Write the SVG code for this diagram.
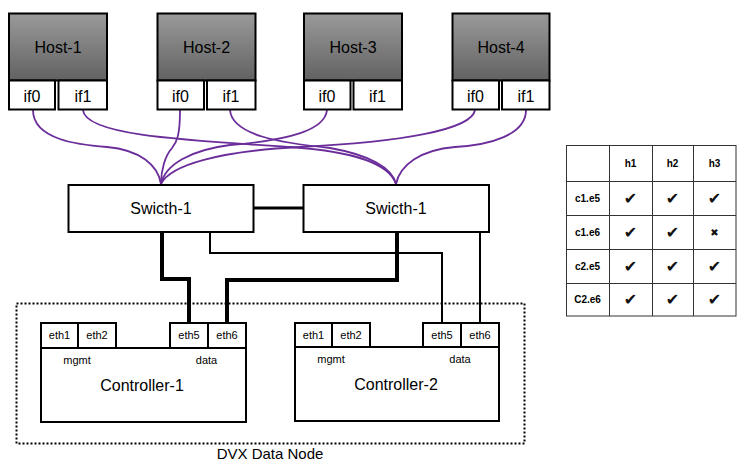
<svg xmlns="http://www.w3.org/2000/svg" width="742" height="472" viewBox="0 0 742 472">
<defs>
<linearGradient id="hostGrad" x1="0" y1="0" x2="0" y2="1">
<stop offset="0" stop-color="#9a9a9a"/>
<stop offset="1" stop-color="#626262"/>
</linearGradient>
</defs>
<style>
.box{fill:#fff;stroke:#000;stroke-width:2}
.host{fill:url(#hostGrad);stroke:#000;stroke-width:2}
.t16{font-family:"Liberation Sans",Arial,sans-serif;font-size:16px;fill:#000;text-anchor:middle}
.t11{font-family:"Liberation Sans",Arial,sans-serif;font-size:11px;fill:#000;text-anchor:middle}
.tb{font-family:"Liberation Sans",Arial,sans-serif;font-size:10px;font-weight:bold;fill:#000;text-anchor:middle}
.ck{font-family:"DejaVu Sans",sans-serif;font-size:16px;fill:#111;text-anchor:middle}
.xk{font-family:"DejaVu Sans",sans-serif;font-size:10px;fill:#111;text-anchor:middle}
.purple{fill:none;stroke:#6a2d9a;stroke-width:1.8}
.thick{fill:none;stroke:#000;stroke-width:4}
.thin{fill:none;stroke:#000;stroke-width:2}
.grid{stroke:#333;stroke-width:1;fill:none}
</style>

<g id="connectors">
<path class="purple" d="M33,110 C33,140 80,145 107,147 C140,150 158,165 161,184"/>
<path class="purple" d="M180,110 C180,135 177,142 172,148 C165,156 161,170 161,184"/>
<path class="purple" d="M327,110 C325,130 290,140 230,145 C190,150 165,165 161,184"/>
<path class="purple" d="M475,110 C472,130 400,142 300,147 C220,151 170,165 161,184"/>
<path class="purple" d="M83,110 C85,135 180,140 290,147 C360,152 390,165 396,184"/>
<path class="purple" d="M230,110 C232,135 280,143 330,148 C370,155 392,168 396,184"/>
<path class="purple" d="M526,110 C526,135 490,145 455,147 C420,150 400,165 396,184"/>
<line class="thick" x1="254" y1="208" x2="303" y2="208" style="stroke-width:3"/>
<path class="thick" d="M162,232 V279 H189 V323"/>
<path class="thick" d="M397,232 V280 H227 V323"/>
<path class="thin" d="M210,232 V253 H442 V323"/>
<path class="thin" d="M480,232 V323"/>
</g>

<g id="host-1">
<rect class="host" x="9" y="13.5" width="98" height="67"/>
<text class="t16" x="58" y="53">Host-1</text>
<rect class="box" x="9" y="80.5" width="46" height="29"/>
<text class="t16" x="32" y="102">if0</text>
<rect class="box" x="58.5" y="80.5" width="48.5" height="29"/>
<text class="t16" x="83" y="102">if1</text>
</g>
<g id="host-2">
<rect class="host" x="157.5" y="13.5" width="98" height="67"/>
<text class="t16" x="206.5" y="53">Host-2</text>
<rect class="box" x="157.5" y="80.5" width="46.5" height="29"/>
<text class="t16" x="180.5" y="102">if0</text>
<rect class="box" x="207" y="80.5" width="48.5" height="29"/>
<text class="t16" x="231" y="102">if1</text>
</g>
<g id="host-3">
<rect class="host" x="304" y="13.5" width="98" height="67"/>
<text class="t16" x="353" y="53">Host-3</text>
<rect class="box" x="304" y="80.5" width="46.5" height="29"/>
<text class="t16" x="327" y="102">if0</text>
<rect class="box" x="353.5" y="80.5" width="48.5" height="29"/>
<text class="t16" x="377.5" y="102">if1</text>
</g>
<g id="host-4">
<rect class="host" x="452.5" y="13.5" width="97" height="67"/>
<text class="t16" x="501" y="53">Host-4</text>
<rect class="box" x="452.5" y="80.5" width="46.5" height="29"/>
<text class="t16" x="475.5" y="102">if0</text>
<rect class="box" x="502" y="80.5" width="47.5" height="29"/>
<text class="t16" x="526" y="102">if1</text>
</g>

<g id="switch-1">
<rect class="box" x="68.5" y="185" width="185" height="47"/>
<text class="t16" x="161" y="214">Swicth-1</text>
</g>
<g id="switch-2">
<rect class="box" x="303.5" y="185" width="185.5" height="47"/>
<text class="t16" x="396" y="214">Swicth-1</text>
</g>

<g id="dvx-data-node">
<rect x="16.5" y="303.5" width="508" height="140" fill="none" stroke="#000" stroke-width="2" stroke-dasharray="2 2"/>
<text class="t16" x="270" y="459" style="font-size:15px">DVX Data Node</text>
</g>

<g id="controller-1">
<rect class="box" x="41" y="348" width="205" height="74"/>
<rect class="box" x="41" y="323" width="37" height="25"/>
<text class="t11" x="59.5" y="339">eth1</text>
<rect class="box" x="78" y="323" width="38" height="25"/>
<text class="t11" x="97" y="339">eth2</text>
<rect class="box" x="170" y="323" width="38" height="25"/>
<text class="t11" x="189" y="339">eth5</text>
<rect class="box" x="208" y="323" width="38" height="25"/>
<text class="t11" x="227" y="339">eth6</text>
<text class="t11" x="77" y="364">mgmt</text>
<text class="t11" x="206.5" y="364">data</text>
<text class="t16" x="142" y="391">Controller-1</text>
</g>
<g id="controller-2">
<rect class="box" x="295" y="347" width="204" height="74"/>
<rect class="box" x="295" y="323" width="37" height="24"/>
<text class="t11" x="313.5" y="339">eth1</text>
<rect class="box" x="332" y="323" width="38" height="24"/>
<text class="t11" x="351" y="339">eth2</text>
<rect class="box" x="423" y="323" width="38" height="24"/>
<text class="t11" x="442" y="339">eth5</text>
<rect class="box" x="461" y="323" width="38" height="24"/>
<text class="t11" x="480" y="339">eth6</text>
<text class="t11" x="331" y="363">mgmt</text>
<text class="t11" x="460" y="363">data</text>
<text class="t16" x="396" y="390">Controller-2</text>
</g>

<g id="table">
<rect class="grid" x="566.5" y="145.5" width="169.5" height="170.5"/>
<line class="grid" x1="609.5" y1="145.5" x2="609.5" y2="316"/>
<line class="grid" x1="652.5" y1="145.5" x2="652.5" y2="316"/>
<line class="grid" x1="693.5" y1="145.5" x2="693.5" y2="316"/>
<line class="grid" x1="566.5" y1="181.5" x2="736" y2="181.5"/>
<line class="grid" x1="566.5" y1="215.5" x2="736" y2="215.5"/>
<line class="grid" x1="566.5" y1="249.5" x2="736" y2="249.5"/>
<line class="grid" x1="566.5" y1="283.5" x2="736" y2="283.5"/>
<text class="tb" x="630.5" y="167">h1</text>
<text class="tb" x="672.5" y="167">h2</text>
<text class="tb" x="714.5" y="167">h3</text>
<text class="tb" x="587.5" y="202">c1.e5</text>
<text class="tb" x="587.5" y="236">c1.e6</text>
<text class="tb" x="587.5" y="270">c2.e5</text>
<text class="tb" x="587.5" y="303">C2.e6</text>
<text class="ck" x="630.5" y="204">✔</text>
<text class="ck" x="672.5" y="204">✔</text>
<text class="ck" x="714.5" y="204">✔</text>
<text class="ck" x="630.5" y="238">✔</text>
<text class="ck" x="672.5" y="238">✔</text>
<text class="xk" x="714.5" y="236">✖</text>
<text class="ck" x="630.5" y="272">✔</text>
<text class="ck" x="672.5" y="272">✔</text>
<text class="ck" x="714.5" y="272">✔</text>
<text class="ck" x="630.5" y="305">✔</text>
<text class="ck" x="672.5" y="305">✔</text>
<text class="ck" x="714.5" y="305">✔</text>
</g>
</svg>
